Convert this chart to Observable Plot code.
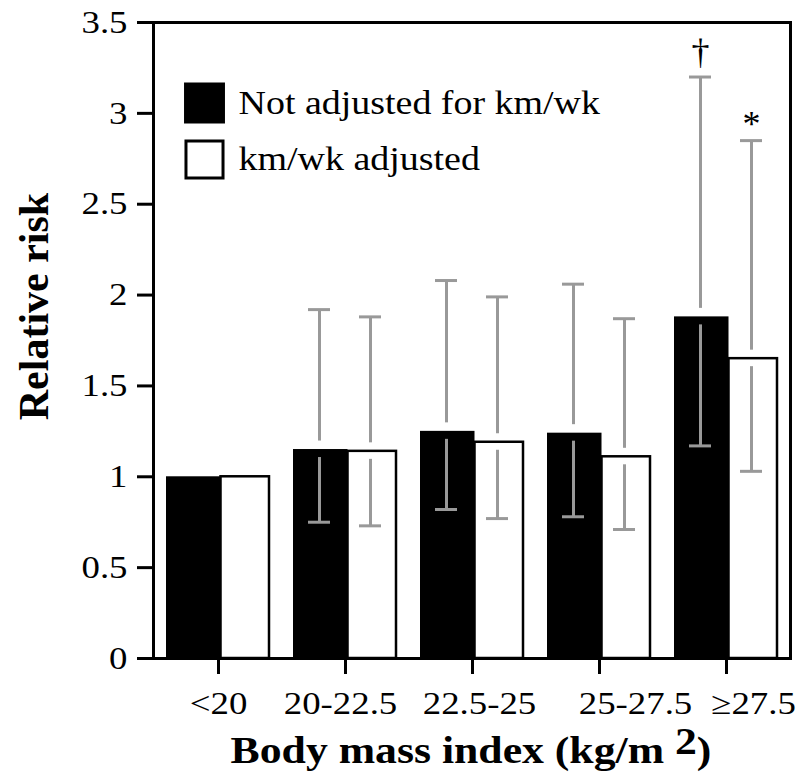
<!DOCTYPE html>
<html><head><meta charset="utf-8">
<script src="https://cdn.jsdelivr.net/npm/d3@7"></script>
<script src="https://cdn.jsdelivr.net/npm/@observablehq/plot@0.6"></script>
<style>html,body{margin:0;padding:0;background:#fff}</style>
</head><body><div id="chart"></div>
<script>
// ---- data ----
const categories = ["<20", "20-22.5", "22.5-25", "25-27.5", "\u226527.5"];
const notAdjusted   = [1.00, 1.15, 1.25, 1.24, 1.88];
const notAdjustedLo = [null, 0.75, 0.82, 0.78, 1.17];
const notAdjustedHi = [null, 1.92, 2.08, 2.06, 3.20];
const adjusted      = [1.00, 1.14, 1.19, 1.11, 1.65];
const adjustedLo    = [null, 0.73, 0.77, 0.71, 1.03];
const adjustedHi    = [null, 1.88, 1.99, 1.87, 2.85];
const notAdjustedNote = [null, null, null, null, "\u2020"];
const adjustedNote    = [null, null, null, null, "*"];
const yTicks      = [0, 0.5, 1, 1.5, 2, 2.5, 3, 3.5];
const yTickLabels = ["0", "0.5", "1", "1.5", "2", "2.5", "3", "3.5"];
const seriesLabels = ["Not adjusted for km/wk", "km/wk adjusted"];
const xTitle = "Body mass index (kg/m 2)";
const yTitle = "Relative risk";

const rows = categories.map((cat, i) => ({
  cat,
  not: notAdjusted[i], notLo: notAdjustedLo[i], notHi: notAdjustedHi[i], notNote: notAdjustedNote[i],
  adj: adjusted[i], adjLo: adjustedLo[i], adjHi: adjustedHi[i], adjNote: adjustedNote[i]
}));
const ciNot = rows.filter(d => d.notLo != null);
const ciAdj = rows.filter(d => d.adjLo != null);

// ---- style ----
const FONT = "'Liberation Serif', 'Times New Roman', serif";
const GRAY = "#999999";
const labelShift = {"<20": 0, "20-22.5": -5, "22.5-25": 7, "25-27.5": 36, "\u226527.5": 27};

function errorBars(data, v, lo, hi, dx) {
  const s = {stroke: GRAY, strokeWidth: 3};
  return [
    Plot.ruleX(data, {x: "cat", y1: hi, y2: v, dx, ...s, insetBottom: 8.5}),
    Plot.ruleX(data, {x: "cat", y1: v, y2: lo, dx, ...s, insetTop: 8}),
    Plot.tickY(data, {x: "cat", y: hi, dx, ...s, insetLeft: 41, insetRight: 41}),
    Plot.tickY(data, {x: "cat", y: lo, dx, ...s, insetLeft: 41, insetRight: 41})
  ];
}

const chart = Plot.plot({
  width: 804,
  height: 781,
  marginTop: 22,
  marginBottom: 123,
  marginLeft: 153,
  marginRight: 14,
  style: {fontFamily: FONT, background: "white", color: "black", overflow: "visible"},
  x: {type: "band", domain: categories, paddingInner: 0.183, paddingOuter: 0.093, axis: null},
  y: {domain: [0, 3.5], axis: null},
  marks: [
    Plot.barY(rows, {x: "cat", y: "adj", fill: "white", stroke: "black", strokeWidth: 2.5, insetLeft: 54.5, insetRight: 1}),
    Plot.barY(rows, {x: "cat", y: "not", fill: "black", insetRight: 49.5}),
    ...errorBars(ciNot, "not", "notLo", "notHi", -26),
    ...errorBars(ciAdj, "adj", "adjLo", "adjHi", 25),
    Plot.text(ciNot.filter(d => d.notNote), {x: "cat", y: "notHi", text: "notNote", dx: -26, dy: -13, lineAnchor: "bottom", fontSize: 36}),
    Plot.text(ciAdj.filter(d => d.adjNote), {x: "cat", y: "adjHi", text: "adjNote", dx: 25, dy: -5, lineAnchor: "bottom", fontSize: 36}),
    // axes
    Plot.axisY(yTicks, {tickFormat: (d, i) => yTickLabels[i], tickSize: 16, tickPadding: 10, strokeWidth: 3, fontSize: 32, label: null}),
    Plot.axisX({tickSize: 16, tickFormat: () => "", strokeWidth: 3, label: null}),
    ...categories.map(c => Plot.axisX([c], {tickSize: 0, tickPadding: 33, dx: labelShift[c], fontSize: 32, label: null})),
    Plot.frame({stroke: "black", strokeWidth: 3}),
    // legend
    Plot.dot([0], {frameAnchor: "top-left", dx: 51, dy: 80.5, symbol: "square", r: 23.1, fill: "black"}),
    Plot.dot([0], {frameAnchor: "top-left", dx: 51, dy: 137, symbol: "square", r: 20.9, fill: "white", stroke: "black", strokeWidth: 3}),
    Plot.text([seriesLabels[0]], {frameAnchor: "top-left", dx: 85, dy: 80.5, textAnchor: "start", lineAnchor: "middle", fontSize: 33}),
    Plot.text([seriesLabels[1]], {frameAnchor: "top-left", dx: 85, dy: 137, textAnchor: "start", lineAnchor: "middle", fontSize: 33}),
    // titles
    Plot.text([yTitle], {frameAnchor: "left", rotate: -90, dx: -106, dy: -34, textAnchor: "middle", lineAnchor: "bottom", fontSize: 42, fontWeight: "bold"}),
    Plot.text([xTitle], {frameAnchor: "bottom", dx: -1, dy: 104, textAnchor: "middle", lineAnchor: "bottom", fontSize: 38, fontWeight: "bold"})
  ]
});
document.getElementById("chart").append(chart);

// superscript in x title
d3.select(chart).selectAll("text").filter(function () { return this.textContent === xTitle; }).each(function () {
  const t = d3.select(this);
  t.text(null);
  t.append("tspan").text("Body mass index (kg/m ");
  t.append("tspan").attr("dy", -9).text("2");
  t.append("tspan").attr("dy", 9).text(")");
});

// the source figure's lettering is horizontally wider than Liberation Serif
const STRETCH = 1.15;
d3.select(chart).selectAll("text").each(function () {
  const s = this.textContent;
  if (!s || s === yTitle || s === "\u2020" || s === "*") return;
  const len = this.getComputedTextLength();
  this.setAttribute("textLength", (len * STRETCH).toFixed(1));
  this.setAttribute("lengthAdjust", "spacingAndGlyphs");
});
</script>
</body></html>
